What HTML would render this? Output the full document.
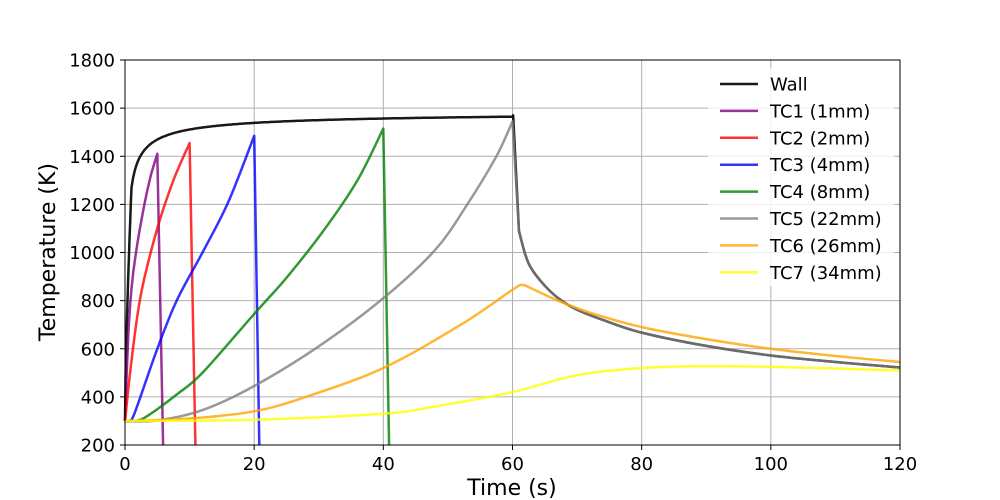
<!DOCTYPE html>
<html><head><meta charset="utf-8"><style>
body{margin:0;background:#fff}
svg{display:block;font-family:"DejaVu Sans","Liberation Sans",sans-serif}
</style></head><body>
<svg id="s" width="1000" height="500" xmlns="http://www.w3.org/2000/svg">
<rect width="1000" height="500" fill="#fff"/>
<g id="grid" stroke="#b0b0b0" stroke-width="1"></g>
<g id="series" fill="none" stroke-width="2.5" stroke-linejoin="round"></g>
<rect x="125" y="60" width="775" height="385" fill="none" stroke="#000" stroke-width="1"/>
<g id="ticks" font-size="18" fill="#000"></g>
<text x="512" y="495" font-size="22" text-anchor="middle">Time (s)</text>
<text transform="translate(55,252) rotate(-90)" font-size="22" text-anchor="middle">Temperature (K)</text>
<g id="legend" font-size="18"></g>
</svg>
<script>
var X=function(t){return 125+t*775/120},Y=function(v){return 445-(v-200)*385/1600};
var ns="http://www.w3.org/2000/svg";
function el(p,n,a,txt){var e=document.createElementNS(ns,n);for(var k in a)e.setAttribute(k,a[k]);if(txt!=null)e.textContent=txt;document.getElementById(p).appendChild(e);return e;}
for(var t=0;t<=120;t+=20){var x=X(t);el("grid","line",{x1:x,x2:x,y1:60,y2:445});el("ticks","line",{x1:x,x2:x,y1:445,y2:450,stroke:"#000"});el("ticks","text",{x:x,y:470,"text-anchor":"middle"},t);}
for(var v=200;v<=1800;v+=200){var y=Y(v);el("grid","line",{x1:125,x2:900,y1:y,y2:y});el("ticks","line",{x1:120,x2:125,y1:y,y2:y,stroke:"#000"});el("ticks","text",{x:115,y:y+6.5,"text-anchor":"end"},v);}
function cr(pts){var p=pts.map(function(q){return [X(q[0]),Y(q[1])]});var d="M"+p[0][0].toFixed(1)+","+p[0][1].toFixed(1);
for(var i=0;i<p.length-1;i++){var p0=p[i-1]||p[i],p1=p[i],p2=p[i+1],p3=p[i+2]||p2;
d+="C"+(p1[0]+(p2[0]-p0[0])/6).toFixed(1)+","+(p1[1]+(p2[1]-p0[1])/6).toFixed(1)+" "+(p2[0]-(p3[0]-p1[0])/6).toFixed(1)+","+(p2[1]-(p3[1]-p1[1])/6).toFixed(1)+" "+p2[0].toFixed(1)+","+p2[1].toFixed(1);}return d;}
function lin(pts){return pts.map(function(q,i){return (i?"L":"M")+X(q[0]).toFixed(1)+","+Y(q[1]).toFixed(1)}).join("");}
var wall=[[0,300]];for(var t=0.1;t<=1;t+=0.1)wall.push([t,300+970*Math.pow(t,0.7)]);for(var t=1.25;t<=60;t+=0.25)wall.push([t,1592-322/Math.pow(t,0.6)]);
var after=[[61,1090],[62,990],[63,930],[65,862],[67,812],[70,762],[75,710],[80,667],[90,612],[100,572],[110,545],[120,522]];
var S=[
["rgba(0,0,0,0.9)",lin(wall)+" L"+X(60.1)+","+Y(1570)+" L"+X(61)+","+Y(1090)+cr(after).replace(/^M[^C]*/,"")],
["rgba(128,0,128,0.8)",cr([[0,300],[0.5,650],[1,850],[1.7,1000],[3,1200],[4,1320],[5,1410]])+lin([[5,1410],[5.9,200]]).replace("M","L")],
["rgba(255,0,0,0.8)",cr([[0,300],[1,550],[2.5,830],[5,1100],[7.5,1300],[10,1455]])+lin([[10,1455],[10.9,200]]).replace("M","L")],
["rgba(0,0,255,0.8)",cr([[0,300],[1,305],[2,370],[5,600],[8,800],[12,1000],[16,1210],[20,1485]])+lin([[20,1485],[20.8,200]]).replace("M","L")],
["rgba(0,128,0,0.8)",cr([[0,300],[2,302],[4,330],[8,410],[12,500],[20,745],[25,895],[31,1100],[36,1300],[40,1515]])+lin([[40,1515],[40.9,200]]).replace("M","L")],
["rgba(128,128,128,0.8)",cr([[0,300],[5,302],[12,345],[20,445],[30,610],[40,810],[48,1010],[53,1200],[57.5,1400],[60,1545]])+" L"+X(61)+","+Y(1090)+cr(after).replace(/^M[^C]*/,"")],
["rgba(255,165,0,0.8)",cr([[0,300],[10,310],[20,340],[28,400],[40,520],[52,700],[60,845],[61.5,865],[63,850],[67,800],[72,750],[80,690],[90,640],[100,600],[110,570],[120,545]])],
["rgba(255,255,0,0.8)",cr([[0,300],[20,305],[40,330],[48,360],[60,420],[70,490],[80,520],[90,528],[100,525],[110,518],[120,510]])]
];
S.forEach(function(s){el("series","path",{d:s[1],stroke:s[0]});});
el("legend","rect",{x:708,y:68,width:186,height:218,fill:"#fff","fill-opacity":0.8,rx:3});
var names=["Wall","TC1 (1mm)","TC2 (2mm)","TC3 (4mm)","TC4 (8mm)","TC5 (22mm)","TC6 (26mm)","TC7 (34mm)"];
names.forEach(function(n,i){var y=84+i*26.9;el("legend","line",{x1:720,x2:758,y1:y,y2:y,stroke:S[i][0],"stroke-width":2.5});el("legend","text",{x:770,y:y+6.5},n);});
</script>
</body></html>
